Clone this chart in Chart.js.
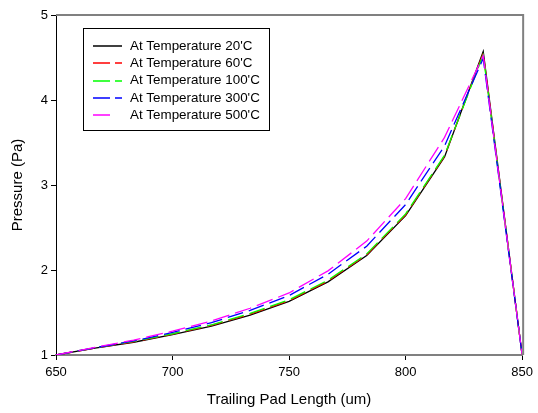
<!DOCTYPE html>
<html>
<head>
<meta charset="utf-8">
<script src="https://cdn.jsdelivr.net/npm/chart.js@4/dist/chart.umd.min.js"></script>
<style>
html,body{margin:0;padding:0;background:#fff;}
#wrap{width:538px;height:413px;position:relative;}
</style>
</head>
<body>
<div id="wrap"><canvas id="c" width="538" height="413"></canvas></div>
<script>
const padLength = [650, 666.7, 683.3, 700, 716.7, 733.3, 750, 766.7, 783.3, 800, 816.7, 833.3, 850];
const temp20  = [1.00, 1.08, 1.15, 1.24, 1.34, 1.47, 1.63, 1.86, 2.17, 2.64, 3.33, 4.57, 1.00];
const temp60  = [1.00, 1.08, 1.155, 1.245, 1.35, 1.48, 1.64, 1.87, 2.18, 2.65, 3.34, 4.55, 1.00];
const temp100 = [1.00, 1.085, 1.16, 1.25, 1.355, 1.49, 1.65, 1.88, 2.19, 2.66, 3.35, 4.53, 1.00];
const temp300 = [1.00, 1.085, 1.165, 1.265, 1.38, 1.525, 1.70, 1.95, 2.28, 2.77, 3.46, 4.49, 1.00];
const temp500 = [1.00, 1.09, 1.175, 1.28, 1.40, 1.55, 1.73, 1.99, 2.34, 2.84, 3.56, 4.52, 1.00];
const seriesNames = ["At Temperature 20'C", "At Temperature 60'C", "At Temperature 100'C", "At Temperature 300'C", "At Temperature 500'C"];
const xTicks = [650, 700, 750, 800, 850];
const yTicks = [1, 2, 3, 4, 5];

const colors = ['#000000', '#ff0000', '#00ff00', '#0000ff', '#ff00ff'];
const dashes = [[], [16, 6], [16, 6], [16, 6], [17, 6]];
const legendDashes = [[], [17, 5], [17, 5], [17, 5], [17, 40]];
const allSeries = [temp20, temp60, temp100, temp300, temp500];
const FONT = '"Liberation Sans", Arial, sans-serif';

const datasets = allSeries.map((vals, i) => ({
  label: seriesNames[i],
  data: padLength.map((x, j) => ({x: x, y: vals[j]})),
  borderColor: colors[i],
  backgroundColor: colors[i],
  borderWidth: 1.3,
  borderDash: dashes[i],
  pointRadius: 0,
  tension: 0,
  fill: false,
  order: 5 - i
}));

const framePlugin = {
  id: 'frame',
  afterDraw(chart) {
    const {ctx, chartArea: a} = chart;
    ctx.save();
    ctx.strokeStyle = '#808080';
    ctx.lineWidth = 2;
    ctx.beginPath();
    ctx.moveTo(a.left, a.top);
    ctx.lineTo(a.right + 1, a.top);
    ctx.lineTo(a.right + 1, a.bottom);
    ctx.stroke();
    ctx.restore();

    // legend box
    const lx = 83, ly = 28, lw = 186, lh = 102;
    ctx.save();
    ctx.fillStyle = '#ffffff';
    ctx.fillRect(lx, ly, lw, lh);
    ctx.strokeStyle = '#000000';
    ctx.lineWidth = 1;
    ctx.strokeRect(lx + 0.5, ly + 0.5, lw, lh);
    ctx.font = '13.4px ' + FONT;
    ctx.textBaseline = 'middle';
    seriesNames.forEach((name, i) => {
      const y = 46 + i * 17.3;
      ctx.strokeStyle = colors[i];
      ctx.lineWidth = 1.5;
      ctx.setLineDash(legendDashes[i]);
      ctx.beginPath();
      ctx.moveTo(93, Math.round(y));
      ctx.lineTo(122, Math.round(y));
      ctx.stroke();
      ctx.setLineDash([]);
      ctx.fillStyle = '#000000';
      ctx.fillText(name, 130, y);
    });
    ctx.restore();
  }
};

new Chart(document.getElementById('c'), {
  type: 'line',
  data: {datasets: datasets},
  options: {
    responsive: false,
    animation: false,
    layout: {padding: {left: 0, right: 11, top: 15, bottom: 0}},
    plugins: {legend: {display: false}, tooltip: {enabled: false}},
    scales: {
      x: {
        type: 'linear',
        min: 650, max: 850,
        afterBuildTicks: s => { s.ticks = xTicks.map(v => ({value: v})); },
        afterFit: s => { s.height = 58; },
        border: {display: true, color: '#808080', width: 2},
        grid: {display: true, drawOnChartArea: false, drawTicks: true, tickLength: 5, color: '#000000', tickColor: '#000000'},
        ticks: {color: '#000000', font: {family: FONT, size: 13}, padding: 5, maxRotation: 0},
        title: {display: true, text: 'Trailing Pad Length (um)', color: '#000000', font: {family: FONT, size: 15}, padding: {top: 11}}
      },
      y: {
        type: 'linear',
        min: 1, max: 5,
        afterBuildTicks: s => { s.ticks = yTicks.map(v => ({value: v})); },
        afterFit: s => { s.width = 56; },
        border: {display: true, color: '#000000', width: 1},
        grid: {display: true, drawOnChartArea: false, drawTicks: true, tickLength: 5, color: '#000000', tickColor: '#000000'},
        ticks: {color: '#000000', font: {family: FONT, size: 13}, padding: 3},
        title: {display: true, text: 'Pressure (Pa)', color: '#000000', font: {family: FONT, size: 15}, padding: {top: 9, bottom: 0}}
      }
    }
  },
  plugins: [framePlugin]
});
</script>
</body>
</html>
